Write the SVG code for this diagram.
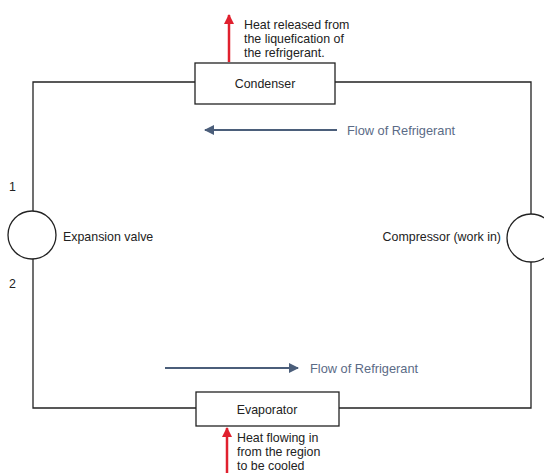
<svg xmlns="http://www.w3.org/2000/svg" width="544" height="473" viewBox="0 0 544 473">
<defs>
<style>
.ln{stroke:#222;stroke-width:1.3;fill:none}
.box{stroke:#222;stroke-width:1.3;fill:#fff}
.t{font-family:"Liberation Sans",Arial,sans-serif;font-size:12.4px;fill:#222}
.f{font-family:"Liberation Sans",Arial,sans-serif;font-size:12.8px;fill:#5b6b86}
.flow{stroke:#4b5e7a;stroke-width:2;fill:none}
.heat{stroke:#e0202e;stroke-width:2.5;fill:none}
</style>
<marker id="ab" viewBox="0 0 10 10" refX="9" refY="5" markerWidth="5" markerHeight="5" orient="auto" markerUnits="strokeWidth"><path d="M0,0 L10,5 L0,10 z" fill="#4b5e7a"/></marker>
<marker id="ar" viewBox="0 0 10 10" refX="9" refY="5" markerWidth="4" markerHeight="4" orient="auto" markerUnits="strokeWidth"><path d="M0,0 L10,5 L0,10 z" fill="#e0202e"/></marker>
</defs>
<rect width="544" height="473" fill="#fff"/>
<g id="connectors">
<path class="ln" d="M195,82 H33 V211"/>
<path class="ln" d="M33,259 V408 H196"/>
<path class="ln" d="M335,82 H531 V214"/>
<path class="ln" d="M531,262 V408 H339"/>
<line class="flow" x1="337" y1="130" x2="205" y2="130" marker-end="url(#ab)"/>
<line class="flow" x1="165" y1="368" x2="298" y2="368" marker-end="url(#ab)"/>
<line class="heat" x1="229" y1="62" x2="229" y2="15" marker-end="url(#ar)"/>
<line class="heat" x1="227" y1="473" x2="227" y2="428" marker-end="url(#ar)"/>
</g>
<g id="condenser">
<rect class="box" x="195" y="63" width="140" height="41"/>
<text class="t" x="265" y="88" text-anchor="middle">Condenser</text>
</g>
<g id="evaporator">
<rect class="box" x="196" y="392" width="143" height="34"/>
<text class="t" x="267" y="414" text-anchor="middle">Evaporator</text>
</g>
<g id="expansion-valve">
<circle class="box" cx="32" cy="235" r="24"/>
<text class="t" x="63" y="241">Expansion valve</text>
</g>
<g id="compressor">
<circle class="box" cx="531" cy="238" r="24"/>
<text class="t" x="501" y="241" text-anchor="end">Compressor (work in)</text>
</g>
<g id="labels">
<text class="t" x="9" y="191">1</text>
<text class="t" x="9" y="288">2</text>
<text class="t" x="244" y="29">Heat released from</text>
<text class="t" x="244" y="43">the liquefication of</text>
<text class="t" x="244" y="57">the refrigerant.</text>
<text class="t" x="237" y="442">Heat flowing in</text>
<text class="t" x="237" y="456">from the region</text>
<text class="t" x="237" y="470">to be cooled</text>
<text class="f" x="347" y="135">Flow of Refrigerant</text>
<text class="f" x="310" y="373">Flow of Refrigerant</text>
</g>
</svg>
